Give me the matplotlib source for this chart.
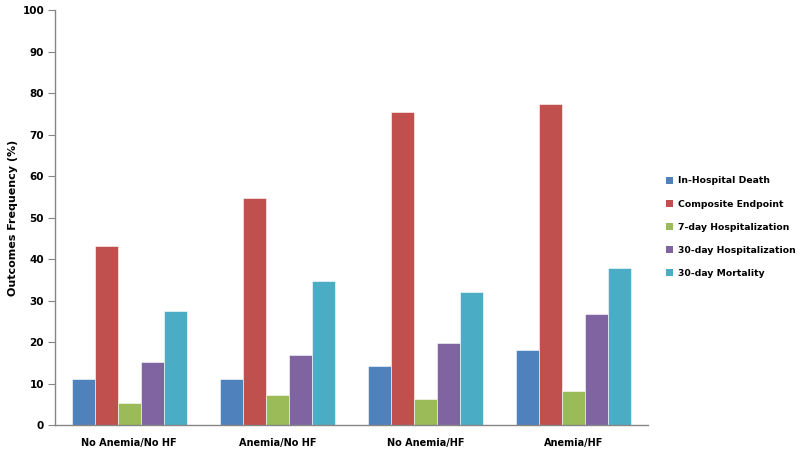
import numpy as np
import matplotlib
matplotlib.use('Agg')
import matplotlib.pyplot as plt
from matplotlib.patches import Patch

# ── Data ─────────────────────────────────────────────────────
groups = ['No Anemia/No HF', 'Anemia/No HF', 'No Anemia/HF', 'Anemia/HF']
series = ['In-Hospital Death', 'Composite Endpoint', '7-day Hospitalization',
          '30-day Hospitalization', '30-day Mortality']
in_hosp_death = [11.0, 11.0, 14.2, 18.2]
composite = [43.1, 54.7, 75.5, 77.3]
hosp_7day = [5.3, 7.2, 6.3, 8.1]
hosp_30day = [15.3, 16.9, 19.8, 26.7]
mort_30day = [27.4, 34.6, 32.1, 37.8]
values = [in_hosp_death, composite, hosp_7day, hosp_30day, mort_30day]

colors = ['#4F81BD', '#C0504D', '#9BBB59', '#8064A2', '#4BACC6']

plt.rcParams['font.family'] = 'DejaVu Sans'
plt.rcParams['font.weight'] = 'bold'

fig = plt.figure(figsize=(8.0, 4.51), dpi=100)
ax = fig.add_axes([0.069, 0.0576, 0.741, 0.92])

x = np.arange(len(groups))
w = 0.155
for i, (vals, c) in enumerate(zip(values, colors)):
    ax.bar(x + (i - 2) * w, vals, width=w, color=c, edgecolor='white',
           linewidth=0.4, label=series[i])

ax.set_xlim(-0.5, len(groups) - 0.5)
ax.set_ylim(0, 100)
ax.set_yticks(np.arange(0, 101, 10))
ax.set_xticks(x)
ax.set_xticklabels(groups, fontsize=7, fontweight='bold')
ax.tick_params(axis='x', length=0, pad=9)
ax.tick_params(axis='y', length=5, color='#868686', labelsize=7.5, pad=3)
for lab in ax.get_yticklabels():
    lab.set_fontweight('bold')

for s in ['top', 'right']:
    ax.spines[s].set_visible(False)
for s in ['left', 'bottom']:
    ax.spines[s].set_color('#868686')
    ax.spines[s].set_linewidth(1.0)

ax.set_ylabel('Outcomes Frequency (%)', fontsize=8, fontweight='bold', labelpad=3)

handles = [Patch(facecolor=c, edgecolor='none') for c in colors]
leg = fig.legend(handles, series, loc='upper left', bbox_to_anchor=(0.828, 0.617),
                 frameon=False, fontsize=6.7, handlelength=0.75, handleheight=0.75,
                 handletextpad=0.5, labelspacing=1.52, borderaxespad=0)

fig.savefig('out.png', dpi=100, facecolor='white')
